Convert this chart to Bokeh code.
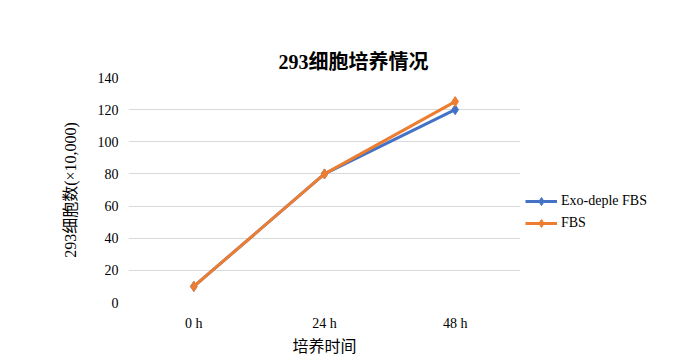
from bokeh.plotting import figure
from bokeh.models import Range1d, Legend, LegendItem, FactorRange
from bokeh.embed import file_html
from bokeh.resources import INLINE

categories = ["0 h", "24 h", "48 h"]
exo_values = [10, 80, 120]
fbs_values = [10, 80, 125]
series_names = ["Exo-deple FBS", "FBS"]
y_ticks = [0, 20, 40, 60, 80, 100, 120, 140]

FONT = "Liberation Serif, Noto Sans CJK SC"

p = figure(frame_width=392, frame_height=225, output_backend="svg", toolbar_location=None,
           x_range=FactorRange(*categories), y_range=Range1d(0, 140),
           min_border_left=128, min_border_right=146, min_border_top=77, min_border_bottom=50)
p.outline_line_color = None

p.title.text = "293细胞培养情况"
p.title.text_font = FONT
p.title.text_font_size = "20px"
p.title.text_font_style = "bold"
p.title.align = "left"
p.title.offset = 150
p.title.text_color = "#000000"

for ax in (p.xaxis[0], p.yaxis[0]):
    ax.axis_line_color = None
    ax.major_tick_line_color = None
    ax.minor_tick_line_color = None
    ax.major_label_text_font = FONT
    ax.major_label_text_font_size = "14px"
    ax.major_label_text_color = "#000000"
    ax.axis_label_text_font = FONT
    ax.axis_label_text_font_size = "16px"
    ax.axis_label_text_font_style = "normal"
    ax.axis_label_text_color = "#000000"

p.yaxis[0].ticker = y_ticks
p.yaxis[0].axis_label = "293细胞数(×10,000)"
p.yaxis[0].major_label_standoff = 4
p.yaxis[0].axis_label_standoff = 16
p.xaxis[0].axis_label = "培养时间"
p.xaxis[0].major_label_standoff = 7
p.xaxis[0].axis_label_standoff = 4

p.xgrid.grid_line_color = None
p.ygrid.grid_line_color = "#D9D9D9"
p.ygrid.grid_line_width = 1

r1 = p.line(categories, exo_values, line_color="#4472C4", line_width=3)
m1 = p.scatter(categories, exo_values, marker="diamond", size=10, color="#4472C4")
r2 = p.line(categories, fbs_values, line_color="#ED7D31", line_width=3)
m2 = p.scatter(categories, fbs_values, marker="diamond", size=10, color="#ED7D31")

legend = Legend(items=[LegendItem(label=series_names[0], renderers=[r1, m1]),
                       LegendItem(label=series_names[1], renderers=[r2, m2])],
                location=(5, 69), orientation="vertical")
legend.border_line_color = None
legend.background_fill_alpha = 0
legend.padding = 0
legend.margin = 0
legend.spacing = 2
legend.glyph_width = 32
legend.glyph_height = 20
legend.label_standoff = 4
legend.label_text_font = FONT
legend.label_text_font_size = "14px"
legend.label_text_color = "#000000"
p.add_layout(legend, "right")

open("out.html", "w").write(file_html(p, INLINE))
